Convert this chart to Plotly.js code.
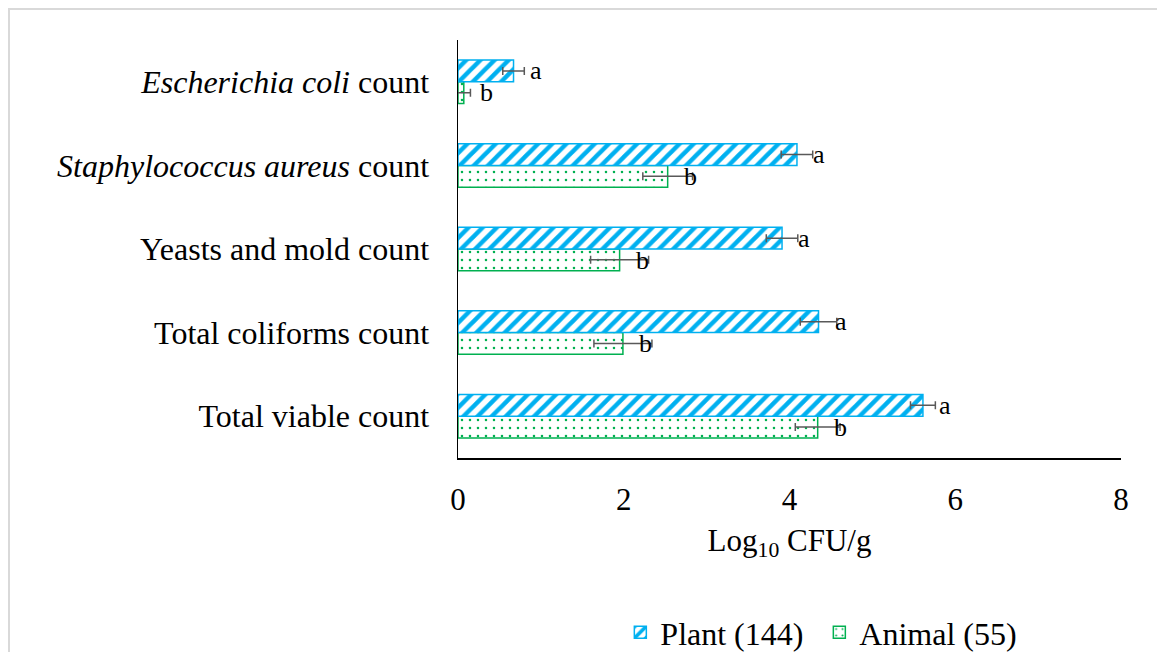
<!DOCTYPE html>
<html>
<head>
<meta charset="utf-8">
<script src="https://cdn.plot.ly/plotly-3.0.1.min.js"></script>
<style>
  html, body { margin: 0; padding: 0; background: #fff; }
  #wrap { position: relative; width: 1157px; height: 652px; overflow: hidden; }
  #frame { position: absolute; left: 8px; top: 8px; width: 1200px; height: 700px;
           border-left: 2px solid #d9d9d9; border-top: 2px solid #d9d9d9; pointer-events: none; }
  #chart { position: absolute; left: 0; top: 0; width: 1157px; height: 652px; }
</style>
</head>
<body>
<div id="wrap">
  <div id="chart"></div>
  <div id="frame"></div>
</div>
<script>
// Microbial counts (Log10 CFU/g) by source, bottom-to-top category order
const categories = [
  "Total viable count",
  "Total coliforms count",
  "Yeasts and mold count",
  "<i>Staphylococcus aureus</i> count",
  "<i>Escherichia coli</i> count"
];

const plantName = "Plant (144)";
const animalName = "Animal (55)";

const plantMean  = [5.61, 4.35, 3.91, 4.09, 0.67];
const plantErr   = [0.15, 0.22, 0.19, 0.19, 0.13];
const animalMean = [4.34, 1.99, 1.95, 2.53, 0.07];
const animalErr  = [0.27, 0.35, 0.35, 0.30, 0.08];

const plantLetters  = ["a", "a", "a", "a", "a"];
const animalLetters = ["b", "b", "b", "b", "b"];

const xTicks = [0, 2, 4, 6, 8];

const serif = "Liberation Serif, Times New Roman, serif";
const blue = "#00B0F0";
const green = "#00B050";

// Animal trace first so it sits below Plant inside each group
const animalTrace = {
  type: "bar", orientation: "h", name: animalName,
  y: categories, x: animalMean,
  legendrank: 2,
  marker: {
    color: "#ffffff",
    line: { color: green, width: 1.5 },
    pattern: { shape: ".", fgcolor: green, bgcolor: "#ffffff", size: 8, solidity: 0.08 }
  },
  error_x: { type: "data", array: animalErr, visible: true, color: "#595959", thickness: 1.5, width: 4 },
  hoverinfo: "x+name"
};

const plantTrace = {
  type: "bar", orientation: "h", name: plantName,
  y: categories, x: plantMean,
  legendrank: 1,
  marker: {
    color: "#ffffff",
    line: { color: blue, width: 1.5 },
    pattern: { shape: "/", fgcolor: blue, bgcolor: "#ffffff", size: 10, solidity: 0.45 }
  },
  error_x: { type: "data", array: plantErr, visible: true, color: "#595959", thickness: 1.5, width: 4 },
  hoverinfo: "x+name"
};

// Significance letters next to each bar
const annotations = [];
categories.forEach((c, i) => {
  annotations.push({
    x: plantMean[i], y: c, xref: "x", yref: "y",
    text: plantLetters[i], showarrow: false,
    xanchor: "center", yanchor: "middle", xshift: 22, yshift: 11,
    font: { family: serif, size: 26, color: "#000" }
  });
  annotations.push({
    x: animalMean[i], y: c, xref: "x", yref: "y",
    text: animalLetters[i], showarrow: false,
    xanchor: "center", yanchor: "middle", xshift: 23, yshift: -11,
    font: { family: serif, size: 26, color: "#000" }
  });
});

const layout = {
  width: 1157, height: 652,
  margin: { l: 458, r: 36, t: 40, b: 194 },
  paper_bgcolor: "rgba(0,0,0,0)",
  plot_bgcolor: "rgba(0,0,0,0)",
  barmode: "group",
  bargap: 0.48,
  bargroupgap: 0,
  font: { family: serif, size: 32, color: "#000" },
  showlegend: true,
  legend: {
    orientation: "h", xref: "paper", x: 0.545, xanchor: "center",
    yref: "container", y: 0.03, yanchor: "middle",
    font: { family: serif, size: 32, color: "#000" },
    itemwidth: 30, tracegroupgap: 0, entrywidth: 154
  },
  xaxis: {
    range: [0, 8], tickvals: xTicks, ticktext: xTicks.map(String),
    automargin: false,
    showgrid: false, zeroline: false,
    showline: true, linecolor: "#000", linewidth: 1.5,
    ticks: "", ticklabelstandoff: 13,
    tickfont: { family: serif, size: 31, color: "#000" },
    title: { text: "Log<sub>10</sub> CFU/g", standoff: 13, font: { family: serif, size: 31, color: "#000" } }
  },
  yaxis: {
    type: "category", categoryorder: "array", categoryarray: categories,
    range: [-0.5, 4.5],
    automargin: false,
    showgrid: false, zeroline: false,
    showline: true, linecolor: "#000", linewidth: 1.5,
    ticks: "", ticklabelstandoff: 21,
    tickfont: { family: serif, size: 32, color: "#000" }
  },
  annotations: annotations
};

Plotly.newPlot("chart", [animalTrace, plantTrace], layout, { displayModeBar: false, staticPlot: true });
</script>
</body>
</html>
